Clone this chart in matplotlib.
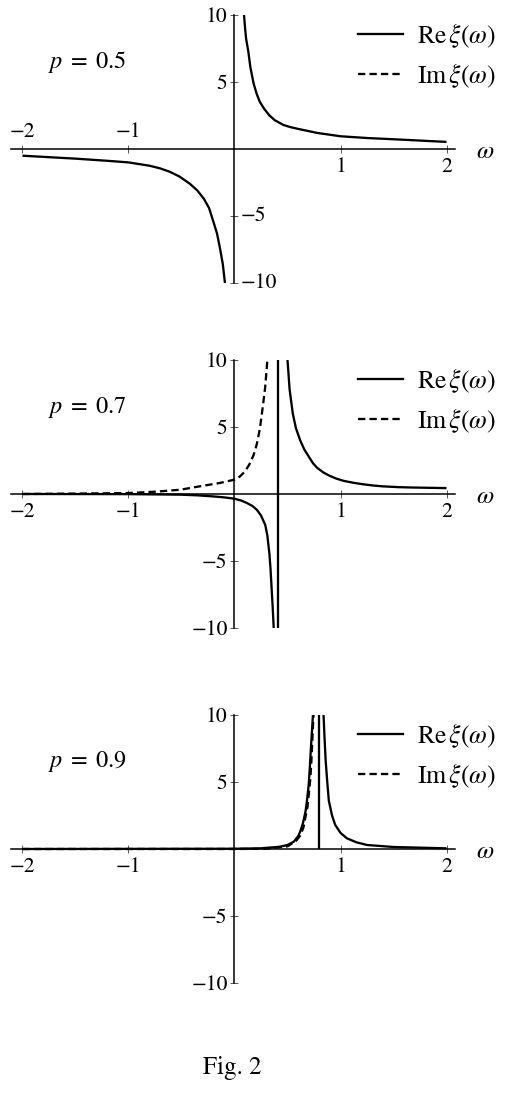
import numpy as np
import matplotlib
matplotlib.use("Agg")
import matplotlib.pyplot as plt
from matplotlib.lines import Line2D

plt.rcParams["font.family"] = ["STIXGeneral", "DejaVu Serif"]
plt.rcParams["mathtext.fontset"] = "stix"

# ---- data ----
p_values = ["0.5", "0.7", "0.9"]
x_ticks = [-2, -1, 1, 2]
y_ticks = [-10, -5, 5, 10]

# p = 0.5
re1_neg_w = [-2.0, -1.5, -1.2, -1.0, -0.8, -0.7, -0.61, -0.52, -0.42, -0.35,
             -0.29, -0.24, -0.20, -0.165, -0.137, -0.11, -0.09]
re1_neg_v = [-0.50, -0.72, -0.88, -1.00, -1.25, -1.45, -1.7, -2.05, -2.6, -3.1,
             -3.7, -4.4, -5.4, -6.3, -7.4, -8.6, -10.0]
re1_pos_w = [0.09, 0.10, 0.11, 0.13, 0.15, 0.18, 0.21, 0.24, 0.28, 0.33, 0.38,
             0.46, 0.52, 0.60, 0.78, 1.0, 1.25, 1.57, 2.0]
re1_pos_v = [10.0, 9.0, 8.2, 7.3, 6.1, 4.9, 4.1, 3.5, 3.0, 2.5, 2.15,
             1.8, 1.65, 1.5, 1.2, 0.95, 0.82, 0.7, 0.53]

# p = 0.7
re2_left_w = [-2.0, -1.0, -0.51, -0.35, -0.2, -0.1, 0.0, 0.06, 0.117, 0.17,
              0.21, 0.25, 0.29, 0.31, 0.33, 0.34, 0.35, 0.36, 0.37]
re2_left_v = [0.0, -0.01, -0.05, -0.1, -0.18, -0.25, -0.35, -0.48, -0.67, -0.9,
              -1.17, -1.6, -2.3, -3.1, -4.5, -5.6, -7.0, -8.4, -10.0]
re2_pole = 0.41
re2_right_w = [0.50, 0.52, 0.55, 0.58, 0.62, 0.66, 0.70, 0.74, 0.78, 0.84,
               0.90, 0.96, 1.03, 1.12, 1.2, 1.3, 1.4, 1.55, 1.7, 2.0]
re2_right_v = [10.0, 7.8, 6.0, 4.9, 4.0, 3.3, 2.8, 2.3, 1.95, 1.6,
               1.35, 1.15, 0.98, 0.84, 0.74, 0.64, 0.57, 0.51, 0.48, 0.44]
im2_w = [-2.0, -1.5, -1.0, -0.75, -0.51, -0.33, -0.14, 0.0, 0.05, 0.10, 0.14,
         0.18, 0.21, 0.24, 0.27, 0.29, 0.31]
im2_v = [0.0, 0.03, 0.07, 0.17, 0.32, 0.57, 0.82, 1.07, 1.3, 1.69, 2.2,
         2.9, 3.7, 4.9, 6.7, 8.0, 10.0]

# p = 0.9
re3_left_w = [-2.0, 0.0, 0.245, 0.43, 0.50, 0.56, 0.60, 0.62, 0.645, 0.67,
              0.685, 0.70, 0.71, 0.72, 0.73, 0.74]
re3_left_v = [0.0, 0.02, 0.05, 0.17, 0.3, 0.55, 0.95, 1.3, 1.9, 2.8,
              3.7, 4.8, 6.0, 7.4, 8.7, 10.0]
re3_pole = 0.80
re3_right_w = [0.84, 0.85, 0.86, 0.875, 0.89, 0.92, 0.95, 1.0, 1.06, 1.15,
               1.25, 1.5, 2.0]
re3_right_v = [10.0, 8.2, 6.6, 5.0, 3.6, 2.5, 1.8, 1.2, 0.8, 0.5,
               0.3, 0.15, 0.05]
im3_w = [-2.0, 0.0, 0.3, 0.5, 0.58, 0.62, 0.65, 0.67, 0.69, 0.70, 0.715,
         0.725, 0.735, 0.745]
im3_v = [0.0, 0.0, 0.02, 0.2, 0.6, 1.0, 1.6, 2.4, 3.2, 4.0, 5.2,
         6.5, 8.2, 10.0]

LW = 1.65
DASH = (3.2, 1.8)
W, H = 510, 1107
TICK_FS = 15.5


def setup_axes(ax, neg_x_above=False, neg_y_right=False):
    ax.set_xlim(-2.108, 2.08)
    ax.set_ylim(-10, 10)
    for s in ["top", "right"]:
        ax.spines[s].set_visible(False)
    ax.spines["left"].set_position(("data", 0))
    ax.spines["bottom"].set_position(("data", 0))
    ax.spines["left"].set_linewidth(1.1)
    ax.spines["bottom"].set_linewidth(1.1)
    ax.set_xticks(x_ticks)
    ax.set_yticks(y_ticks)
    ax.tick_params(direction="inout", length=6, width=0.7, color="0.35",
                   labelsize=TICK_FS, pad=2)
    ax.tick_params(axis="x", pad=3)
    xl = ["\u22122", "\u22121", "1", "2"]
    yl = ["\u221210", "\u22125", "5", "10"]
    if neg_x_above:
        for v, t in zip(x_ticks[:2], xl[:2]):
            ax.text(v, 0.5, t, ha="center", va="bottom", fontsize=TICK_FS)
        xl[0] = xl[1] = ""
    if neg_y_right:
        for v, t in zip(y_ticks[:2], yl[:2]):
            ax.text(0.06, v, t, ha="left", va="center", fontsize=TICK_FS)
        yl[0] = yl[1] = ""
    ax.set_xticklabels(xl)
    ax.set_yticklabels(yl)
    ax.patch.set_visible(False)
    ax.text(2.28, -0.2, r"$\omega$", ha="left", va="center", fontsize=18,
            clip_on=False)


fig = plt.figure(figsize=(W / 100, H / 100), dpi=100)
tops = [15, 360, 715]
axes = []
for t in tops:
    ax = fig.add_axes([11 / W, 1 - (t + 268) / H, 444 / W, 268 / H])
    axes.append(ax)

kw = dict(color="black", lw=LW, solid_capstyle="butt")

# panel 1
ax = axes[0]
setup_axes(ax, neg_x_above=True, neg_y_right=True)
ax.plot(re1_neg_w, re1_neg_v, **kw)
ax.plot(re1_pos_w, re1_pos_v, **kw)

# panel 2
ax = axes[1]
setup_axes(ax)
ax.plot(re2_left_w, re2_left_v, **kw)
ax.plot([re2_pole, re2_pole], [-10, 10], **kw)
ax.plot(re2_right_w, re2_right_v, **kw)
ax.plot(im2_w, im2_v, color="black", lw=LW, dashes=DASH)

# panel 3
ax = axes[2]
setup_axes(ax)
ax.plot(im3_w, im3_v, color="black", lw=LW, dashes=DASH)
ax.plot(re3_left_w, re3_left_v, **kw)
ax.plot([re3_pole, re3_pole], [0, 10], **kw)
ax.plot(re3_right_w, re3_right_v, **kw)

# labels and legends
for ax, p, t in zip(axes, p_values, tops):
    fig.text(48 / W, 1 - (t + 47) / H, r"$p\;=\;$" + p, fontsize=17.5,
             ha="left", va="center")
    handles = [Line2D([], [], color="black", lw=LW),
               Line2D([], [], color="black", lw=LW, dashes=DASH)]
    labels = [r"$\mathrm{Re}\,\xi(\omega)$", r"$\mathrm{Im}\,\xi(\omega)$"]
    ax.legend(handles, labels, loc="upper left",
              bbox_to_anchor=(358 / W, 1 - (t + 6) / H),
              bbox_transform=fig.transFigure, frameon=False,
              fontsize=18.5, handlelength=1.75, handletextpad=0.55,
              labelspacing=0.45, borderpad=0, borderaxespad=0)

fig.text(232 / W, 1 - 1068 / H, "Fig. 2", fontsize=18, ha="center",
         va="center")

fig.savefig("out.png", dpi=100)
